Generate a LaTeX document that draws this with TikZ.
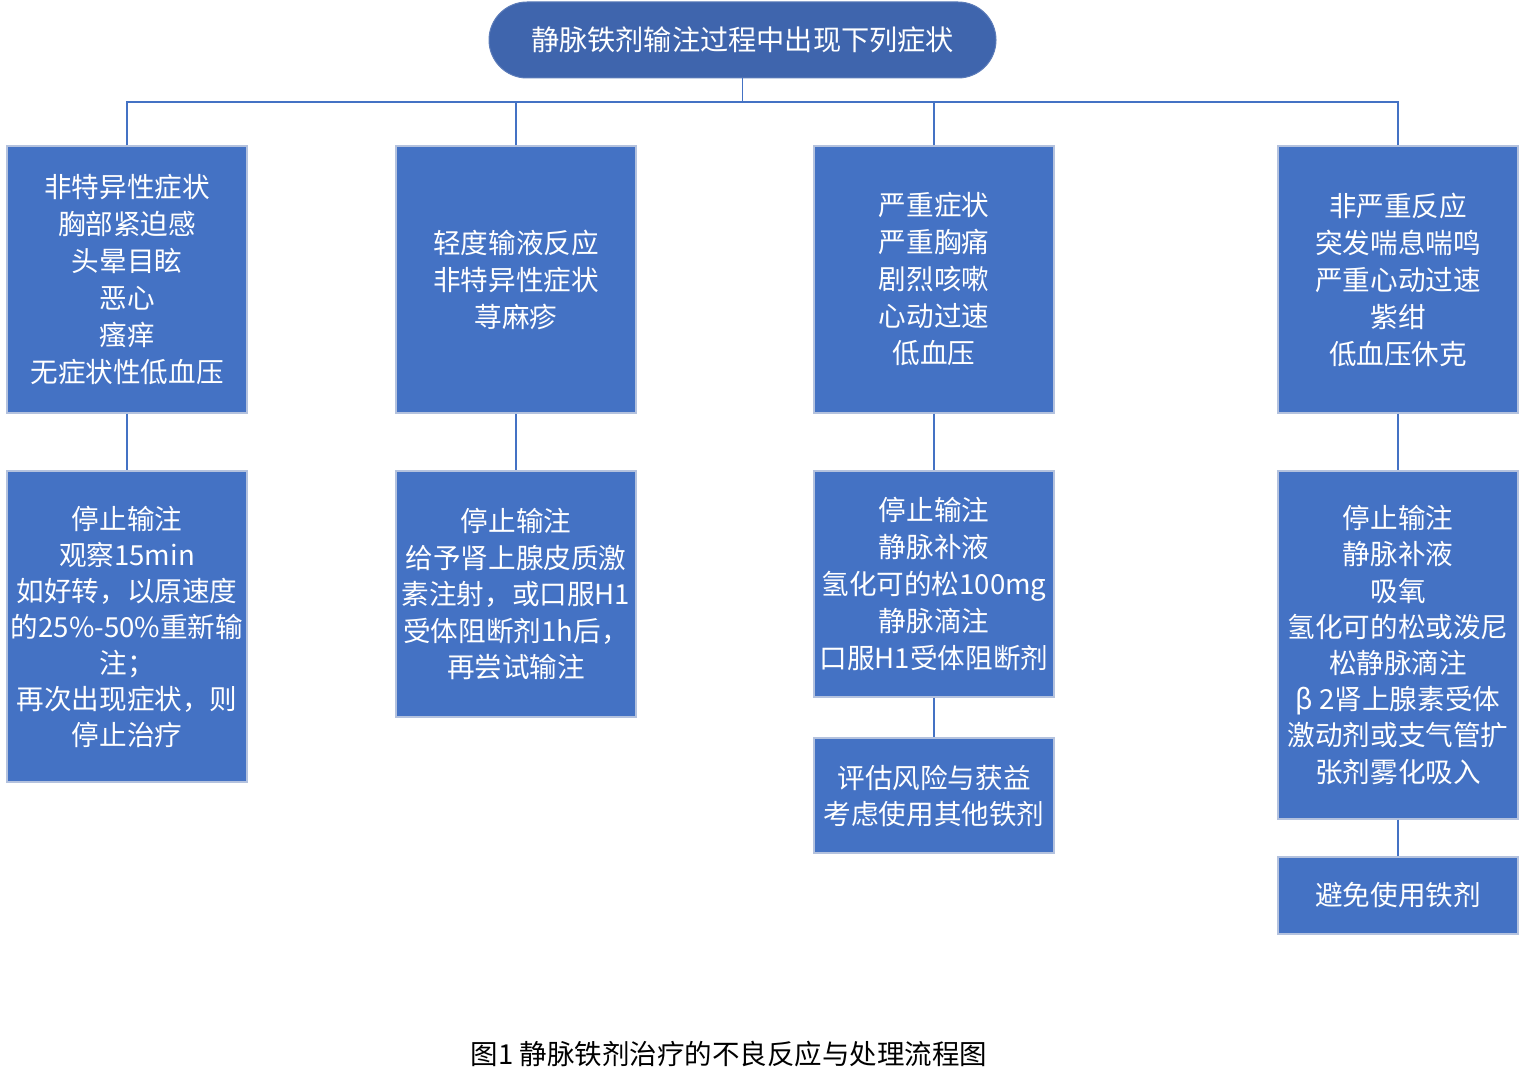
\documentclass[tikz,border=0pt]{standalone}
\usepackage{fontspec}
\setmainfont{Noto Sans CJK SC}
\definecolor{boxblue}{HTML}{4472C4}
\definecolor{topblue}{HTML}{3F65AD}
\definecolor{edgegray}{HTML}{B4C2DE}
\begin{document}
\begin{tikzpicture}[x=1pt,y=-1pt,
  box/.style={rectangle,fill=boxblue,draw=edgegray,line width=1.2pt,minimum width=240pt,text=white,align=center,font=\fontsize{27.6}{37}\selectfont,inner sep=0pt},
  pill/.style={rectangle,rounded corners=38pt,fill=topblue,draw=topblue!85!white,line width=1pt,minimum width=507pt,minimum height=76pt,text=white,font=\fontsize{28.2}{37}\selectfont,inner sep=0pt},
  conn/.style={draw=boxblue,line width=1.8pt}]
\useasboundingbox (0,0) rectangle (1525,1086);
\node[pill] (top) at (742.5,40) {静脉铁剂输注过程中出现下列症状};
\coordinate (bus) at (742.5,102);
\node[box,minimum height=267pt] (a1) at (127,279.5) {非特异性症状\\胸部紧迫感\\头晕目眩\\恶心\\瘙痒\\无症状性低血压};
\node[box,minimum height=267pt] (a2) at (516,279.5) {轻度输液反应\\非特异性症状\\荨麻疹};
\node[box,minimum height=267pt] (a3) at (934,279.5) {严重症状\\严重胸痛\\剧烈咳嗽\\心动过速\\低血压};
\node[box,minimum height=267pt] (a4) at (1398,279.5) {非严重反应\\突发喘息喘鸣\\严重心动过速\\紫绀\\低血压休克};
\node[box,minimum height=311pt,font=\fontsize{27.6}{36}\selectfont] (b1) at (127,626.5) {停止输注\\观察15min\\如好转，以原速度\\的25\%-50\%重新输\\注；\\再次出现症状，则\\停止治疗};
\node[box,minimum height=246pt,font=\fontsize{27.6}{36.5}\selectfont] (b2) at (516,594) {停止输注\\给予肾上腺皮质激\\素注射，或口服H1\\受体阻断剂1h后，\\再尝试输注};
\node[box,minimum height=226pt] (b3) at (934,584) {停止输注\\静脉补液\\氢化可的松100mg\\静脉滴注\\口服H1受体阻断剂};
\node[box,minimum height=348pt,font=\fontsize{27.6}{36.2}\selectfont] (b4) at (1398,645) {停止输注\\静脉补液\\吸氧\\氢化可的松或泼尼\\松静脉滴注\\β 2肾上腺素受体\\激动剂或支气管扩\\张剂雾化吸入};
\node[box,minimum height=115pt,font=\fontsize{27.6}{36}\selectfont] (c3) at (934,795.5) {评估风险与获益\\考虑使用其他铁剂};
\node[box,minimum height=77pt] (c4) at (1398,895.5) {避免使用铁剂};
\node[font=\fontsize{27.5}{30}\selectfont,text=black,inner sep=0pt] (cap) at (729,1054) {图1 静脉铁剂治疗的不良反应与处理流程图};
\draw[conn] (top.south) -- (bus);
\draw[conn] (a1.north) |- (bus);
\draw[conn] (a2.north) |- (bus);
\draw[conn] (a3.north) |- (bus);
\draw[conn] (a4.north) |- (bus);
\draw[conn] (a1.south) -- (b1.north);
\draw[conn] (a2.south) -- (b2.north);
\draw[conn] (a3.south) -- (b3.north);
\draw[conn] (a4.south) -- (b4.north);
\draw[conn] (b3.south) -- (c3.north);
\draw[conn] (b4.south) -- (c4.north);
\end{tikzpicture}
\end{document}
